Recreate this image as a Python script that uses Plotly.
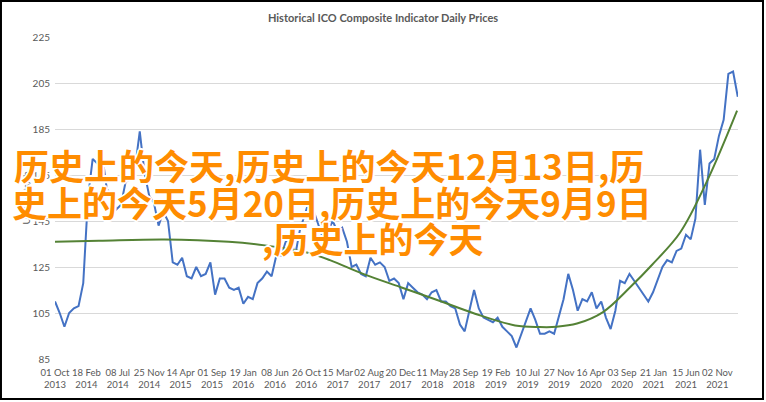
"""
Historical ICO composite indicator chart
"""
import pandas as pd
import plotly.graph_objects as go

# Sampled prices (US cents/lb), one value every 21 days from 01 Oct 2013
start_date = "2013-10-01"
prices = [
    110, 105, 99, 105, 107, 108, 118, 155, 172, 170,
    174, 159, 156, 150, 152, 162, 163, 168, 184, 166,
    156, 153, 143, 149, 145, 127, 126, 129, 121, 120,
    125, 121, 122, 127, 113, 120, 120, 116, 115, 116,
    109, 112, 111, 118, 120, 123, 121, 130, 130, 136,
    138, 130, 141, 147, 154, 149, 143, 137, 141, 145,
    140, 142, 136, 125, 126, 122, 121, 129, 126, 127,
    125, 119, 120, 118, 111, 118, 116, 114, 113, 111,
    114, 115, 110, 110, 108, 107, 100, 97, 106, 115,
    107, 103, 102, 101, 103, 99, 97, 95, 90, 96,
    101, 107, 102, 96, 96, 97, 96, 103, 111, 122,
    115, 106, 111, 110, 114, 107, 110, 103, 98, 106,
    119, 118, 122, 119, 116, 113, 110, 114, 120, 125,
    128, 127, 132, 133, 139, 137, 146, 176, 152, 170,
    172, 182, 189, 209, 210, 199,
]

# Polynomial trend line
trend_dates = [
    "2013-10-01", "2014-04-15", "2015-02-01", "2015-11-15", "2016-04-25",
    "2016-10-20", "2017-02-08", "2017-07-06", "2017-12-18", "2018-05-23",
    "2018-11-17", "2019-05-15", "2019-09-01", "2019-11-15", "2020-02-15",
    "2020-06-10", "2020-10-10", "2021-01-15", "2021-05-20", "2021-09-20",
    "2022-01-29",
]
trend_values = [
    136, 136.4, 137, 136, 134.4,
    131.5, 128, 122, 116.3, 111,
    104.7, 99.6, 98.9, 99, 100.4,
    105.4, 116.3, 126, 140, 163,
    193,
]

tick_dates = [
    "2013-10-01", "2014-02-18", "2014-07-08", "2014-11-25", "2015-04-14",
    "2015-09-01", "2016-01-19", "2016-06-08", "2016-10-26", "2017-03-15",
    "2017-08-02", "2017-12-20", "2018-05-11", "2018-09-28", "2019-02-19",
    "2019-07-10", "2019-11-27", "2020-04-16", "2020-09-03", "2021-01-21",
    "2021-06-15", "2021-11-02",
]
tick_labels = [
    "01 Oct<br>2013", "18 Feb<br>2014", "08 Jul<br>2014", "25 Nov<br>2014",
    "14 Apr<br>2015", "01 Sep<br>2015", "19 Jan<br>2016", "08 Jun<br>2016",
    "26 Oct<br>2016", "15 Mar<br>2017", "02 Aug<br>2017", "20 Dec<br>2017",
    "11 May<br>2018", "28 Sep<br>2018", "19 Feb<br>2019", "10 Jul<br>2019",
    "27 Nov<br>2019", "16 Apr<br>2020", "03 Sep<br>2020", "21 Jan<br>2021",
    "15 Jun<br>2021", "02 Nov<br>2021",
]

overlay_lines = [
    "历史上的今天,历史上的今天12月13日,历",
    "史上的今天5月20日,历史上的今天9月9日",
    ",历史上的今天",
]
# paper positions (left edge, vertical centre) of each overlay line
overlay_pos = [(-0.063, 0.605), (-0.066, 0.488), (0.300, 0.376)]

GREY = "#595959"
dates = pd.date_range(start_date, periods=len(prices), freq="21D")

fig = go.Figure()
fig.add_trace(go.Scatter(
    x=dates, y=prices, mode="lines",
    line=dict(color="#4472C4", width=2), name="Daily price",
))
fig.add_trace(go.Scatter(
    x=pd.to_datetime(trend_dates), y=trend_values, mode="lines",
    line=dict(color="#548235", width=2, shape="spline"), name="Trend",
))

fig.update_layout(
    width=766, height=402,
    margin=dict(l=55, r=28, t=37, b=43),
    paper_bgcolor="white", plot_bgcolor="white",
    showlegend=False,
    title=dict(
        text="Historical ICO Composite Indicator Daily Prices",
        x=0.5, xref="container", y=1 - 18 / 402, yanchor="middle",
        font=dict(family="Liberation Sans Narrow, Lato, sans-serif", size=11,
                  color=GREY, weight="bold"),
    ),
    font=dict(family="Lato, sans-serif", size=9.5, color=GREY),
)
fig.update_xaxes(
    type="date", range=["2013-10-01", "2022-02-02"],
    tickvals=pd.to_datetime(tick_dates), ticktext=tick_labels,
    tickangle=0, automargin=False, ticklabelstandoff=6,
    showgrid=False, showline=False, zeroline=False, ticks="",
    tickfont=dict(size=9.5, color=GREY),
)
fig.update_yaxes(
    range=[85, 225], tickvals=[85, 105, 125, 145, 165, 185, 205, 225],
    automargin=False,
    showgrid=True, gridcolor="#D9D9D9", gridwidth=1,
    showline=False, zeroline=False, ticks="", ticklabelstandoff=4,
    tickfont=dict(size=10, color=GREY),
    title=dict(text="US Cents/lb", font=dict(size=10, color=GREY), standoff=0),
)

# big orange overlay text with a white halo
halo = ("2px 0 0 #fff, -2px 0 0 #fff, 0 2px 0 #fff, 0 -2px 0 #fff, "
        "1px 1px 0 #fff, -1px -1px 0 #fff, 1px -1px 0 #fff, -1px 1px 0 #fff")
for text, (px, py) in zip(overlay_lines, overlay_pos):
    fig.add_annotation(
        text=text, xref="paper", yref="paper", x=px, y=py,
        xanchor="left", yanchor="middle", showarrow=False,
        font=dict(family="Noto Sans CJK SC", size=35, color="#FF8C00",
                  weight="bold", shadow=halo),
    )

# dark frame round the whole picture
fig.add_shape(
    type="rect", xref="paper", yref="paper",
    x0=-0.0791, x1=1.0366, y0=-0.1242, y1=1.1118,
    line=dict(color="black", width=2),
)

# drop the page's default body margin so the figure sits at the corner
fig.write_html(
    "out.html",
    config={"displayModeBar": False},
    post_script="document.body.style.margin='0';document.body.style.overflow='hidden';",
)
